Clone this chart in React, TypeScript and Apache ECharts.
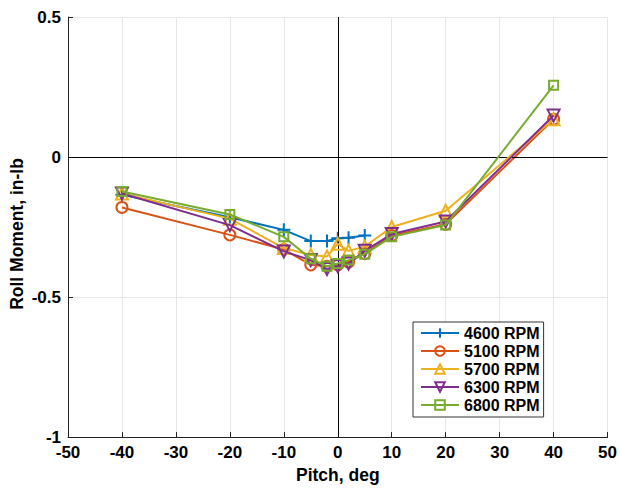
import React, { useEffect, useRef } from "react";
import * as echarts from "echarts";

const seriesNames = ["4600 RPM", "5100 RPM", "5700 RPM", "6300 RPM", "6800 RPM"];
const pitch4600 = [-40, -20, -10, -5, -2, 0, 2, 5];
const pitchAll = [-40, -20, -10, -5, -2, 0, 2, 5, 10, 20, 40];
const roll4600 = [-0.135, -0.215, -0.26, -0.3, -0.3, -0.29, -0.288, -0.28];
const roll5100 = [-0.18, -0.278, -0.33, -0.385, -0.39, -0.385, -0.375, -0.345, -0.28, -0.24, 0.135];
const roll5700 = [-0.13, -0.22, -0.325, -0.35, -0.355, -0.31, -0.335, -0.32, -0.25, -0.192, 0.135];
const roll6300 = [-0.13, -0.243, -0.337, -0.368, -0.4, -0.39, -0.38, -0.335, -0.275, -0.23, 0.148];
const roll6800 = [-0.123, -0.205, -0.285, -0.363, -0.39, -0.38, -0.368, -0.347, -0.285, -0.243, 0.256];
const colors = ["#0072BD", "#D95319", "#EDB120", "#7E2F8E", "#77AC30"];
const xTicks = [-50, 50, 10];
const yTicks = [-1, 0.5, 0.5];

const zip = (xs: number[], ys: number[]) => xs.map((x, i) => [x, ys[i]]);
const FONT = "Liberation Sans";

export default function App() {
  const ref = useRef<HTMLDivElement>(null);
  useEffect(() => {
    const chart = echarts.init(ref.current!, null, { renderer: "svg" });
    const symbols = [
      { symbol: "path://M5,0L5,10M0,5L10,5", rotate: 0, size: 13 },
      { symbol: "circle", rotate: 0, size: 11 },
      { symbol: "triangle", rotate: 0, size: 12 },
      { symbol: "triangle", rotate: 180, size: 12 },
      { symbol: "rect", rotate: 0, size: 9 },
    ];
    const datas = [
      zip(pitch4600, roll4600),
      zip(pitchAll, roll5100),
      zip(pitchAll, roll5700),
      zip(pitchAll, roll6300),
      zip(pitchAll, roll6800),
    ];
    const series: any[] = seriesNames.map((name, i) => ({
      name,
      type: "line",
      data: datas[i],
      symbol: symbols[i].symbol,
      symbolRotate: symbols[i].rotate,
      symbolSize: symbols[i].size,
      showAllSymbol: true,
      lineStyle: { color: colors[i], width: 2 },
      itemStyle: { color: "rgba(0,0,0,0)", borderColor: colors[i], borderWidth: 2 },
      z: 3 + i,
      emphasis: { disabled: true },
    }));
    series.push({
      type: "line",
      data: [],
      silent: true,
      markLine: {
        silent: true,
        symbol: "none",
        label: { show: false },
        lineStyle: { color: "#000", width: 1, type: "solid" },
        data: [{ xAxis: 0 }, { yAxis: 0 }],
      },
      z: 2,
    });
    const tickLabel = { fontFamily: FONT, fontWeight: "bold", fontSize: 17, color: "#000" };
    chart.setOption({
      animation: false,
      grid: { left: 68, right: 10, top: 17, bottom: 45, containLabel: false },
      legend: {
        data: seriesNames,
        orient: "vertical",
        left: 413,
        top: 322,
        itemWidth: 38,
        itemHeight: 12,
        itemGap: 2,
        padding: [3, 4, 4, 7],
        backgroundColor: "#fff",
        borderColor: "#333",
        borderWidth: 1,
        textStyle: { fontFamily: FONT, fontWeight: "bold", fontSize: 16, lineHeight: 16, color: "#000" },
      },
      xAxis: {
        type: "value",
        min: xTicks[0],
        max: xTicks[1],
        interval: xTicks[2],
        name: "Pitch, deg",
        nameLocation: "middle",
        nameGap: 25,
        nameTextStyle: { fontFamily: FONT, fontWeight: "bold", fontSize: 17.5, color: "#000" },
        axisLine: { onZero: false, lineStyle: { color: "#222", width: 1 } },
        axisTick: { show: true, inside: true, length: 5, lineStyle: { color: "#222" } },
        axisLabel: { ...tickLabel, margin: 7 },
        splitLine: { show: true, lineStyle: { color: "#e6e6e6", width: 1 } },
      },
      yAxis: {
        type: "value",
        min: yTicks[0],
        max: yTicks[1],
        interval: yTicks[2],
        axisLine: { show: true, onZero: false, lineStyle: { color: "#222", width: 1 } },
        axisTick: { show: true, inside: true, length: 5, lineStyle: { color: "#222" } },
        axisLabel: {
          ...tickLabel,
          margin: 7,
          formatter: (v: number) => String(v),
          rich: {},
        },
        splitLine: { show: true, lineStyle: { color: "#e6e6e6", width: 1 } },
      },
      graphic: [
        {
          type: "text",
          x: 17,
          y: 234,
          rotation: Math.PI / 2,
          style: {
            text: "Roll Moment, in-lb",
            fontFamily: FONT,
            fontWeight: "bold",
            fontSize: 17.5,
            fill: "#000",
            align: "center",
            verticalAlign: "middle",
          },
        },
      ],
      series,
    });
    return () => chart.dispose();
  }, []);
  return <div ref={ref} style={{ width: 620, height: 489, position: "absolute", left: 0, top: 0 }} />;
}
